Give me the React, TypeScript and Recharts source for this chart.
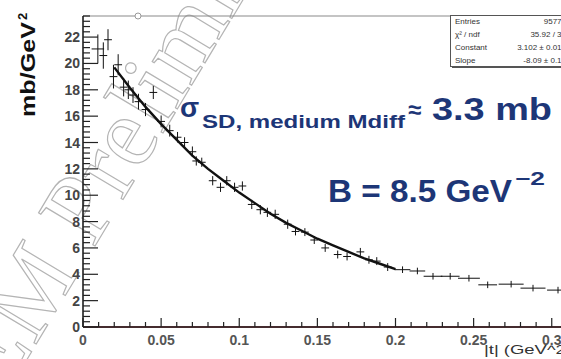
import React from 'react';
import { ScatterChart, Scatter, XAxis, YAxis, ErrorBar, ReferenceLine } from 'recharts';

// measured |t| bins (GeV^2) and dσ/dt (mb/GeV^2)
const tValues = [
  0.0095, 0.013, 0.016, 0.0195, 0.0225, 0.026, 0.029, 0.032, 0.0355, 0.04,
  0.045, 0.05, 0.0555, 0.0605, 0.065, 0.07, 0.0725, 0.076, 0.083, 0.088,
  0.092, 0.097, 0.102, 0.108, 0.1135, 0.118, 0.123, 0.131, 0.136, 0.142,
  0.148, 0.155, 0.163, 0.169, 0.1775, 0.183, 0.188, 0.195, 0.2045, 0.214,
  0.224, 0.235, 0.247, 0.259, 0.274, 0.288, 0.304,
];
const xsecValues = [
  21.1, 20.6, 21.8, 19.0, 19.9, 18.2, 18.0, 17.6, 17.1, 16.5,
  17.8, 15.6, 14.9, 14.4, 14.0, 13.3, 12.6, 12.5, 11.1, 10.6,
  11.1, 10.6, 10.7, 9.3, 8.9, 8.7, 8.55, 7.8, 7.25, 7.2,
  6.6, 6.0, 5.5, 5.35, 5.7, 5.1, 5.0, 4.55, 4.35, 4.25,
  3.85, 3.85, 3.7, 3.2, 3.25, 2.95, 2.8,
];
const binHalfWidths = [
  0.004, 0.0025, 0.0025, 0.0025, 0.0025, 0.0025, 0.0025, 0.0025, 0.0025, 0.0025,
  0.0025, 0.0025, 0.0025, 0.0025, 0.0025, 0.0025, 0.0025, 0.0025, 0.0025, 0.0025,
  0.0025, 0.0025, 0.0025, 0.0025, 0.0025, 0.0025, 0.0025, 0.0025, 0.0025, 0.0025,
  0.0025, 0.0025, 0.0025, 0.0025, 0.0025, 0.0025, 0.0025, 0.0025, 0.005, 0.005,
  0.006, 0.006, 0.007, 0.006, 0.008, 0.008, 0.007,
];
const xsecErrors = [
  1.1, 1.0, 0.8, 0.9, 0.8, 0.7, 0.7, 0.6, 0.6, 0.5,
  0.5, 0.45, 0.45, 0.4, 0.4, 0.4, 0.35, 0.35, 0.35, 0.35,
  0.35, 0.35, 0.35, 0.35, 0.35, 0.35, 0.35, 0.35, 0.3, 0.3,
  0.3, 0.3, 0.3, 0.3, 0.3, 0.3, 0.3, 0.3, 0.25, 0.25,
  0.25, 0.25, 0.25, 0.25, 0.25, 0.25, 0.25,
];

// exponential fit as drawn
const fitT = [0.02, 0.03, 0.04, 0.05, 0.06, 0.07, 0.08, 0.09, 0.1, 0.11, 0.12, 0.13, 0.14, 0.15, 0.16, 0.17, 0.18, 0.19, 0.2];
const fitValues = [19.7, 18.15, 16.7, 15.4, 14.2, 13.0, 12.0, 11.1, 10.2, 9.4, 8.6, 7.9, 7.3, 6.7, 6.2, 5.7, 5.2, 4.8, 4.4];

const xTickLabels = ['0', '0.05', '0.1', '0.15', '0.2', '0.25', '0.3'];
const yTickLabels = ['0', '2', '4', '6', '8', '10', '12', '14', '16', '18', '20', '22'];

const statLabels = ['Entries', 'χ² / ndf', 'Constant', 'Slope'];
const statValues = ['95770', '35.92 / 33', '3.102 ± 0.014', '-8.09 ± 0.15'];

const points = tValues.map((t, i) => ({ t, v: xsecValues[i], ex: binHalfWidths[i], ey: xsecErrors[i] }));
const fit = fitT.map((t, i) => ({ t, v: fitValues[i] }));

const xTicks = Array.from({ length: 33 }, (_, i) => Math.round(i * 100) / 10000);
const yTicks = Array.from({ length: 60 }, (_, i) => Math.round(i * 4) / 10);

const NAVY = '#1d3677';
const FONT = '"Liberation Sans", Arial, sans-serif';

const XTick = (props: any) => {
  const { x, y, payload } = props;
  const k = payload.value / 0.05;
  const major = Math.abs(k - Math.round(k)) < 1e-6;
  return (
    <g>
      <line x1={x} x2={x} y1={y} y2={y - (major ? 9 : 5)} stroke="#222" strokeWidth={1.2} />
      {major && (
        <text x={x} y={y + 18} textAnchor="middle" fontFamily={FONT} fontWeight="bold" fontSize={14} fill="#555">
          {xTickLabels[Math.round(k)]}
        </text>
      )}
    </g>
  );
};

const YTick = (props: any) => {
  const { x, y, payload } = props;
  const k = payload.value / 2;
  const major = Math.abs(k - Math.round(k)) < 1e-6;
  return (
    <g>
      <line x1={x} x2={x + (major ? 15 : 7)} y1={y} y2={y} stroke="#222" strokeWidth={1.2} />
      {major && (
        <text x={x - 3} y={y + 5} textAnchor="end" fontFamily={FONT} fontWeight="bold" fontSize={14} fill="#444">
          {yTickLabels[Math.round(k)]}
        </text>
      )}
    </g>
  );
};

const noMarker = () => <g />;

export default function App() {
  return (
    <div style={{ position: 'fixed', left: 0, top: 0, width: 561, height: 359, overflow: 'hidden', background: '#fff' }}>
      {/* watermark */}
      <svg width={561} height={359} style={{ position: 'absolute', left: 0, top: 0 }}>
        <text
          x={0}
          y={0}
          transform="translate(-96,564) rotate(-59)"
          fontFamily='"Liberation Serif", "Times New Roman", serif'
          fontSize={100}
          fill="none"
          stroke="#b4b4b4"
          strokeWidth={1.2}
        >
          TOTEM Preliminary
        </text>
      </svg>

      <div style={{ position: 'absolute', left: 0, top: 0 }}>
        <ScatterChart width={600} height={359} margin={{ top: 16, right: 17, bottom: 31, left: 82 }}>
          <XAxis
            type="number"
            dataKey="t"
            domain={[0, 0.32]}
            allowDataOverflow
            ticks={xTicks}
            interval={0}
            height={1}
            tickSize={0}
            tickMargin={0}
            tickLine={false}
            tick={<XTick />}
            axisLine={{ stroke: '#111', strokeWidth: 1.5 }}
          />
          <YAxis
            type="number"
            dataKey="v"
            domain={[0, 23.6]}
            allowDataOverflow
            ticks={yTicks}
            interval={0}
            width={1}
            tickSize={0}
            tickMargin={0}
            tickLine={false}
            tick={<YTick />}
            axisLine={{ stroke: '#111', strokeWidth: 1.5 }}
          />
          <ReferenceLine y={23.6} stroke="#8a8a8a" strokeWidth={1.2} />
          <ReferenceLine y={0} stroke="#e2808c" strokeWidth={2} />
          <Scatter data={points} shape={noMarker} isAnimationActive={false}>
            <ErrorBar dataKey="ex" direction="x" width={0} stroke="#111" strokeWidth={1} isAnimationActive={false} />
            <ErrorBar dataKey="ey" direction="y" width={0} stroke="#111" strokeWidth={1} isAnimationActive={false} />
          </Scatter>
          <Scatter
            data={fit}
            shape={noMarker}
            line={{ stroke: '#111', strokeWidth: 2.4 }}
            lineType="joint"
            isAnimationActive={false}
          />
        </ScatterChart>
      </div>

      {/* labels, annotations, stats box */}
      <svg width={561} height={359} style={{ position: 'absolute', left: 0, top: 0, pointerEvents: 'none' }}>
        <circle cx={138} cy={16} r={3} fill="#fff" stroke="#999" strokeWidth={1} />

        <g transform="translate(35,117) rotate(-90)" fontFamily={FONT} fontWeight="bold" fill="#111">
          <text x={0} y={0} fontSize={20} textLength={95} lengthAdjust="spacingAndGlyphs">mb/GeV</text>
          <text x={97} y={-8} fontSize={13}>2</text>
        </g>

        <text x={484} y={354} fontFamily={FONT} fontSize={13} fill="#333" textLength={88} lengthAdjust="spacingAndGlyphs">
          |t| (GeV^2)
        </text>

        <g fontFamily={FONT} fontWeight="bold" fill={NAVY}>
          <text x={180} y={117} fontSize={28}>σ</text>
          <text x={202} y={128} fontSize={18} textLength={203} lengthAdjust="spacingAndGlyphs">SD, medium  Mdiff</text>
          <text x={408} y={118} fontSize={24}>≈</text>
          <text x={432} y={120} fontSize={31} textLength={120} lengthAdjust="spacingAndGlyphs">3.3 mb</text>
          <text x={328} y={202} fontSize={31} textLength={184} lengthAdjust="spacingAndGlyphs">B = 8.5 GeV</text>
          <text x={515} y={185} fontSize={18} textLength={30} lengthAdjust="spacingAndGlyphs">−2</text>
        </g>

        <rect x={452} y={17} width={130} height={51} fill="#555" />
        <rect x={450.5} y={15.5} width={130} height={51} fill="#fff" stroke="#555" strokeWidth={1} />
        {statLabels.map((label, i) => (
          <g key={label} fontFamily={FONT} fontSize={8} fill="#333">
            <text x={455} y={24 + i * 13}>{label}</text>
            <text x={566} y={24 + i * 13} textAnchor="end">{statValues[i]}</text>
          </g>
        ))}
      </svg>
    </div>
  );
}
